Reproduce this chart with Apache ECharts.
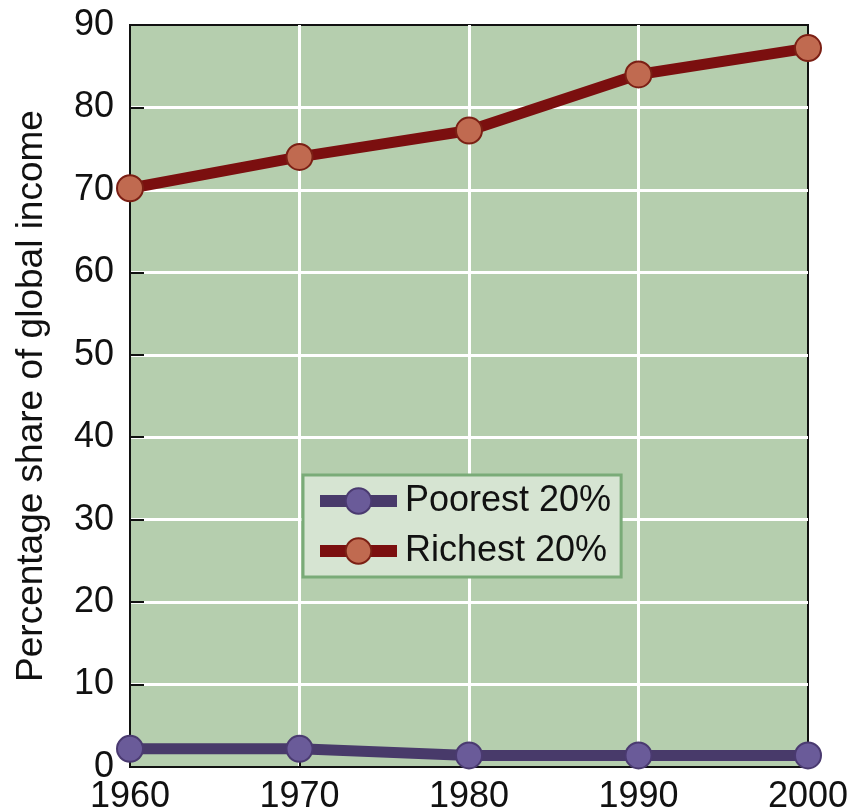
<!DOCTYPE html>
<html>
<head>
<meta charset="utf-8">
<script src="https://cdn.jsdelivr.net/npm/echarts@6/dist/echarts.min.js"></script>
<style>
  html, body { margin: 0; padding: 0; background: #ffffff; }
  #chart { width: 848px; height: 811px; }
</style>
</head>
<body>
<div id="chart"></div>
<script>
// Share of global income held by the poorest and richest fifths of the world
var years = [1960, 1970, 1980, 1990, 2000];
var poorest = [2.2, 2.2, 1.4, 1.4, 1.4];
var richest = [70.2, 74.0, 77.2, 84.0, 87.2];
var yTicks = [0, 10, 20, 30, 40, 50, 60, 70, 80, 90];

var font = '"Liberation Sans", Arial, sans-serif';

function pairs(values) {
  return years.map(function (y, i) { return [y, values[i]]; });
}

var chart = echarts.init(document.getElementById('chart'), null, { renderer: 'canvas' });

chart.setOption({
  animation: false,
  backgroundColor: '#ffffff',
  grid: {
    left: 130, right: 40, top: 25, bottom: 44,
    containLabel: false,
    outerBoundsMode: 'none',
    show: true,
    backgroundColor: '#b5ceae',
    borderColor: '#111111',
    borderWidth: 2
  },
  xAxis: {
    type: 'value',
    min: years[0],
    max: years[years.length - 1],
    interval: 10,
    axisLine: { show: true, onZero: false, lineStyle: { color: '#111111', width: 2 } },
    axisTick: { show: true, inside: true, length: 14, lineStyle: { color: '#111111', width: 2 } },
    axisLabel: {
      color: '#111111', fontFamily: font, fontSize: 36, margin: 12,
      formatter: function (v) { return String(v); }
    },
    splitLine: {
      show: true, showMinLine: false, showMaxLine: false,
      lineStyle: { color: '#ffffff', width: 3 }
    }
  },
  yAxis: {
    type: 'value',
    min: yTicks[0],
    max: yTicks[yTicks.length - 1],
    interval: 10,
    name: 'Percentage share of global income',
    nameLocation: 'middle',
    nameGap: 80,
    nameTextStyle: { color: '#111111', fontFamily: font, fontSize: 37 },
    axisLine: { show: true, lineStyle: { color: '#111111', width: 2 } },
    axisTick: { show: true, inside: true, length: 14, lineStyle: { color: '#111111', width: 2 } },
    axisLabel: { color: '#111111', fontFamily: font, fontSize: 36, margin: 16 },
    splitLine: {
      show: true, showMinLine: false, showMaxLine: false,
      lineStyle: { color: '#ffffff', width: 3 }
    }
  },
  legend: {
    left: 303,
    top: 475,
    orient: 'vertical',
    backgroundColor: '#d6e4d2',
    borderColor: '#7aab78',
    borderWidth: 3,
    padding: [7, 10, 7, 11],
    itemWidth: 77,
    itemHeight: 32,
    itemGap: 12,
    lineStyle: { width: 12 },
    textStyle: { color: '#111111', fontFamily: font, fontSize: 36, padding: [0, 0, 0, 3], lineHeight: 38 },
    data: ['Poorest 20%', 'Richest 20%']
  },
  series: [
    {
      name: 'Poorest 20%',
      type: 'line',
      data: pairs(poorest),
      clip: false,
      symbol: 'circle',
      symbolSize: 26,
      lineStyle: { color: '#483a6a', width: 11 },
      itemStyle: { color: '#6a5b99', borderColor: '#4a3a70', borderWidth: 2 },
      z: 3
    },
    {
      name: 'Richest 20%',
      type: 'line',
      data: pairs(richest),
      clip: false,
      symbol: 'circle',
      symbolSize: 26,
      lineStyle: { color: '#7b0f0f', width: 11 },
      itemStyle: { color: '#c06a50', borderColor: '#7b1f14', borderWidth: 2 },
      z: 3
    }
  ]
});
</script>
</body>
</html>
